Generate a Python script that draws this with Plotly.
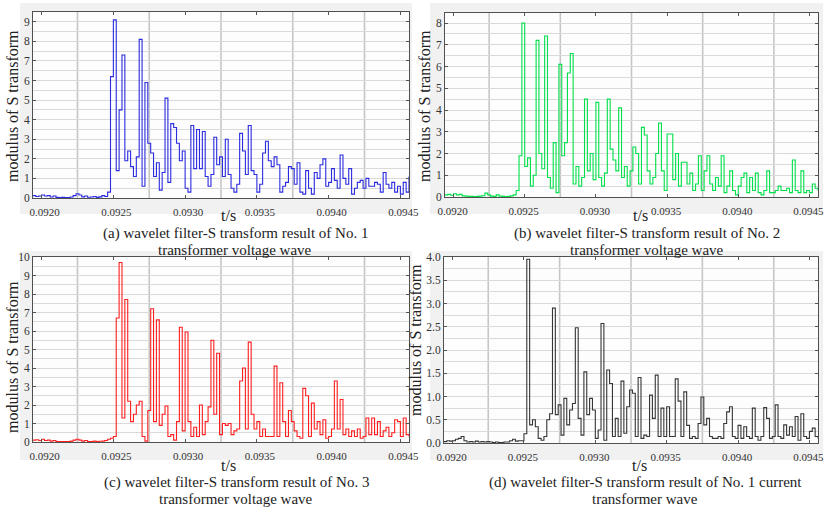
import numpy as np
import plotly.graph_objects as go

# ---------------- data ----------------
T0 = 0.09194          # first sample time (s)
DT = 0.00002          # sampling step (s)

wave_a = [0.12, 0.08, 0.10,
          0.15, 0.10, 0.12, 0.05, 0.10, 0.03, 0.02, 0.03, 0.02, 0.02,
          0.05, 0.12, 0.22, 0.15, 0.06, 0.10, 0.04, 0.05, 0.08, 0.03,
          0.06, 0.12, 0.08, 0.30, 6.2, 9.1, 1.4, 4.5, 7.3, 1.9,
          2.4, 1.6, 1.1, 2.1, 8.1, 0.6, 5.9, 2.8, 2.3, 1.1,
          1.8, 0.4, 1.3, 5.1, 0.8, 3.8, 3.6, 2.8, 1.9, 2.4,
          0.5, 0.3, 3.7, 1.5, 3.5, 1.5, 3.4, 1.1, 0.6, 1.2,
          3.1, 1.7, 2.1, 1.1, 3.0, 1.2, 0.5, 0.3, 0.7, 3.3,
          2.4, 1.2, 3.7, 1.4, 1.2, 0.3, 0.7, 2.3, 2.9, 1.9,
          1.6, 2.1, 1.7, 0.3, 0.6, 0.8, 1.6, 1.5, 0.7, 1.8,
          0.3, 0.2, 1.4, 0.5, 0.2, 1.3, 1.0, 1.7, 2.0, 0.6,
          0.8, 1.5, 0.9, 0.5, 2.2, 1.0, 0.7, 1.5, 0.2, 0.5,
          0.8, 0.9, 0.5, 1.0, 0.6, 0.6, 0.8, 0.7, 0.3, 1.3,
          0.7, 0.5, 0.8, 0.3, 0.6, 0.2, 0.8, 0.3, 1.1]

wave_b = [0.10, 0.12, 0.08,
          0.15, 0.10, 0.12, 0.05, 0.04, 0.03, 0.03, 0.02, 0.03, 0.04,
          0.06, 0.18, 0.10, 0.04, 0.03, 0.10, 0.04, 0.03, 0.02, 0.03,
          0.05, 0.10, 0.30, 1.9, 8.0, 1.4, 1.8, 0.5, 1.0, 7.2,
          2.0, 1.3, 7.4, 0.9, 0.4, 2.5, 0.2, 6.1, 1.9, 2.5,
          5.7, 6.6, 0.6, 1.4, 0.5, 0.9, 4.5, 1.2, 2.0, 0.8,
          4.35, 0.9, 0.5, 1.1, 4.5, 2.2, 1.7, 1.2, 4.1, 0.9,
          1.4, 0.5, 1.2, 2.3, 2.0, 0.6, 3.2, 2.85, 1.2, 0.6,
          0.9, 2.0, 3.4, 1.2, 0.3, 2.9, 2.9, 0.8, 2.0, 0.5,
          1.6, 1.6, 0.6, 1.1, 0.3, 0.6, 1.9, 0.3, 1.2, 1.9,
          0.6, 0.3, 0.9, 0.5, 1.9, 0.2, 0.5, 1.2, 0.3, 0.1,
          0.5, 0.9, 1.1, 0.2, 0.9, 0.3, 1.1, 0.2, 0.1, 0.3,
          1.2, 0.2, 0.2, 0.3, 0.5, 0.3, 0.3, 0.4, 0.2, 1.7,
          0.3, 0.2, 1.2, 0.2, 0.3, 0.2, 0.6, 0.4, 0.3]

wave_c = [0.10, 0.12, 0.08,
          0.15, 0.08, 0.10, 0.05, 0.08, 0.02, 0.03, 0.02, 0.02, 0.03,
          0.05, 0.10, 0.15, 0.10, 0.05, 0.08, 0.03, 0.03, 0.05, 0.03,
          0.04, 0.05, 0.08, 0.15, 0.20, 0.30, 6.7, 9.7, 1.3, 7.7,
          2.2, 1.1, 1.5, 2.0, 2.2, 0.3, 0.05, 1.7, 7.2, 1.1,
          6.6, 0.9, 1.5, 1.95, 0.3, 0.4, 0.1, 1.1, 6.2, 0.6,
          5.95, 1.1, 0.3, 0.8, 0.3, 2.0, 0.4, 1.1, 1.9, 5.5,
          1.5, 4.8, 0.4, 1.0, 0.9, 1.0, 0.4, 0.6, 0.7, 3.3,
          4.0, 0.7, 5.4, 1.5, 0.7, 1.1, 0.3, 0.7, 0.3, 0.3,
          0.3, 4.1, 0.3, 3.2, 1.1, 0.3, 1.7, 1.1, 0.6, 0.3,
          0.2, 2.9, 2.5, 0.3, 2.1, 0.7, 1.1, 0.4, 1.2, 0.2,
          0.3, 0.7, 3.3, 0.7, 2.3, 0.4, 0.7, 0.3, 0.6, 0.3,
          0.7, 0.2, 0.3, 1.3, 0.4, 1.3, 0.4, 1.1, 0.3, 0.6,
          0.8, 0.3, 0.5, 1.2, 1.1, 0.3, 1.3, 0.4, 0.3]

wave_d = [0.03, 0.05, 0.04,
          0.05, 0.08, 0.10, 0.14, 0.05, 0.02, 0.03, 0.02, 0.04, 0.02,
          0.03, 0.02, 0.03, 0.02, 0.01, 0.02, 0.01, 0.01, 0.02, 0.02,
          0.05, 0.08, 0.04, 0.05, 0.05, 0.20, 3.95, 0.39, 0.50, 0.35,
          0.10, 0.06, 0.14, 0.50, 0.63, 2.90, 0.61, 0.82, 0.17, 0.96,
          0.39, 0.71, 0.85, 2.48, 0.53, 0.17, 1.53, 0.61, 0.96, 0.71,
          0.10, 0.28, 2.57, 0.06, 1.57, 1.28, 0.14, 0.53, 0.14, 1.33,
          0.21, 0.78, 1.14, 1.07, 0.14, 1.41, 0.10, 0.17, 0.14, 1.03,
          0.53, 1.46, 0.14, 0.75, 0.14, 0.78, 0.14, 0.14, 1.38, 0.90,
          0.14, 1.10, 0.38, 0.10, 0.14, 0.10, 0.42, 0.99, 0.39, 0.53,
          0.14, 0.10, 0.10, 0.14, 0.10, 0.42, 0.67, 0.78, 0.14, 0.10,
          0.38, 0.10, 0.35, 0.14, 0.10, 0.75, 0.14, 0.06, 0.14, 0.76,
          0.53, 0.10, 0.14, 0.82, 0.14, 0.10, 0.39, 0.17, 0.35, 0.14,
          0.57, 0.06, 0.63, 0.14, 0.10, 0.25, 0.32, 0.14, 0.10]

x_tick_vals = [0.0920, 0.0925, 0.0930, 0.0935, 0.0940, 0.0945]
x_tick_text = ["0.0920", "0.0925", "0.0930", "0.0935", "0.0940", "0.0945"]
x_grid_vals = [0.09225, 0.09275, 0.09325, 0.09375, 0.09425]

captions = [
    ("(a) wavelet filter-S transform result of No. 1", "transformer voltage wave"),
    ("(b) wavelet filter-S transform result of No. 2", "transformer voltage wave"),
    ("(c) wavelet filter-S transform result of No. 3", "transformer voltage wave"),
    ("(d) wavelet filter-S transform result of No. 1 current", "transformer wave"),
]
y_title = "modulus of S transform"
x_title = "t/s"

# ---------------- figure ----------------
W, H = 825, 507
FONT = "Liberation Serif"


def px_x(p):
    return p / W


def px_y(p):
    return 1 - p / H


panels = [
    dict(y=wave_a, color="#2b2be0", box=(33, 12, 409, 198), yr=9.5,
         yt=list(range(0, 10)), ytext=[str(v) for v in range(0, 10)], ym=0.5, shift=3,
         bg=(20, 3, 412, 214), ytx=13, yty=106, tsx=228, tsy=216, capx=235, capy=233),
    dict(y=wave_b, color="#00e04a", box=(445, 13, 818, 197), yr=8.46,
         yt=list(range(0, 9)), ytext=[str(v) for v in range(0, 9)], ym=0.5, shift=-1,
         bg=(430, 3, 823, 214), ytx=425, yty=106, tsx=640, tsy=216, capx=647, capy=233),
    dict(y=wave_c, color="#ff1f1f", box=(33, 257, 409, 442), yr=10,
         yt=list(range(0, 11)), ytext=[str(v) for v in range(0, 11)], ym=0.5, shift=3,
         bg=(20, 251, 412, 460), ytx=12, yty=357, tsx=228, tsy=465, capx=236, capy=482),
    dict(y=wave_d, color="#363636", box=(444, 257, 818, 443), yr=4.0,
         yt=[0, 0.5, 1, 1.5, 2, 2.5, 3, 3.5, 4],
         ytext=["0.0", "0.5", "1.0", "1.5", "2.0", "2.5", "3.0", "3.5", "4.0"], ym=0.25,
         shift=-1,
         bg=(430, 251, 823, 460), ytx=415, yty=340, tsx=639, tsy=465, capx=645, capy=482),
]

fig = go.Figure()
shapes = []
annotations = []
layout = {}

for k, p in enumerate(panels, start=1):
    t = T0 + DT * np.arange(len(p["y"]))
    xa = "x" if k == 1 else f"x{k}"
    ya = "y" if k == 1 else f"y{k}"
    fig.add_trace(go.Scatter(x=t, y=p["y"], mode="lines", xaxis=xa, yaxis=ya,
                             line=dict(color=p["color"], width=1.1, shape="hv"),
                             showlegend=False, hoverinfo="skip"))
    x0, y0, x1, y1 = p["box"]
    xkey = "xaxis" if k == 1 else f"xaxis{k}"
    ykey = "yaxis" if k == 1 else f"yaxis{k}"
    layout[xkey] = dict(
        domain=[px_x(x0), px_x(x1)], anchor=ya, range=[0.09194, 0.09456],
        automargin=False, ticklabeloverflow="allow",
        tickmode="array", tickvals=x_tick_vals, ticktext=x_tick_text,
        tickfont=dict(family=FONT, size=11, color="#333"),
        ticklabelshift=p["shift"], ticklabelstandoff=4,
        showgrid=False, zeroline=False,
        ticks="inside", ticklen=3, tickcolor="#555",
        showline=True, linecolor="#505050", linewidth=1, mirror="ticks",
    )
    layout[ykey] = dict(
        domain=[px_y(y1), px_y(y0)], anchor=xa, range=[0, p["yr"]],
        automargin=False, ticklabeloverflow="allow",
        tickmode="array", tickvals=p["yt"], ticktext=p["ytext"],
        tickfont=dict(family=FONT, size=11.5, color="#333"),
        showgrid=True, gridcolor="#dadada", gridwidth=1, zeroline=False,
        minor=dict(tickmode="linear", tick0=0, dtick=p["ym"], showgrid=True,
                   gridcolor="#dadada", gridwidth=1, ticks=""),
        ticks="inside", ticklen=3, tickcolor="#555",
        showline=True, linecolor="#505050", linewidth=1, mirror="ticks",
    )
    bx0, by0, bx1, by1 = p["bg"]
    shapes.append(dict(type="rect", xref="paper", yref="paper", layer="below",
                       x0=px_x(bx0), x1=px_x(bx1), y0=px_y(by1), y1=px_y(by0),
                       fillcolor="#f1f1f1", line=dict(width=0)))
    shapes.append(dict(type="rect", xref="paper", yref="paper", layer="below",
                       x0=px_x(x0), x1=px_x(x1), y0=px_y(y1), y1=px_y(y0),
                       fillcolor="#fdfdfd", line=dict(width=0)))
    for g in x_grid_vals:
        shapes.append(dict(type="line", xref=xa, yref=f"{ya} domain", layer="below",
                           x0=g, x1=g, y0=0, y1=1,
                           line=dict(color="#c6c6c6", width=1.6)))
    annotations.append(dict(text=y_title, xref="paper", yref="paper",
                            x=px_x(p["ytx"]), y=px_y(p["yty"]), textangle=-90,
                            showarrow=False, xanchor="center", yanchor="middle",
                            font=dict(family=FONT, size=16, color="#222")))
    annotations.append(dict(text=x_title, xref="paper", yref="paper",
                            x=px_x(p["tsx"]), y=px_y(p["tsy"]),
                            showarrow=False, xanchor="center", yanchor="middle",
                            font=dict(family=FONT, size=16, color="#222")))
    l1, l2 = captions[k - 1]
    annotations.append(dict(text=l1, xref="paper", yref="paper",
                            x=px_x(p["capx"]), y=px_y(p["capy"]),
                            showarrow=False, xanchor="center", yanchor="middle",
                            font=dict(family=FONT, size=15, color="#222")))
    annotations.append(dict(text=l2, xref="paper", yref="paper",
                            x=px_x(p["capx"]), y=px_y(p["capy"] + 17),
                            showarrow=False, xanchor="center", yanchor="middle",
                            font=dict(family=FONT, size=15, color="#222")))

fig.update_layout(**layout)
fig.update_layout(width=W, height=H, margin=dict(l=0, r=0, t=0, b=0),
                  paper_bgcolor="white", plot_bgcolor="rgba(0,0,0,0)",
                  shapes=shapes, annotations=annotations, showlegend=False)

fig.write_html("out.html")
